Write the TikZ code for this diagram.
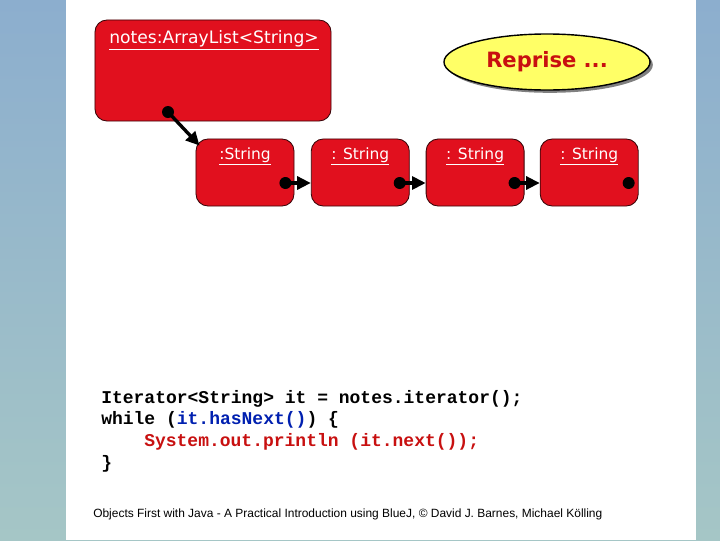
\documentclass[tikz,border=0pt]{standalone}
\usepackage{fontspec}
\setmonofont{Liberation Mono}
\newfontfamily\uifont{DejaVu Sans}
\newfontfamily\footfont{Liberation Sans}
\usetikzlibrary{positioning, arrows.meta, calc, shapes.geometric, shadows}
\usepackage{xcolor}
\definecolor{objred}{RGB}{225,16,30}
\definecolor{noteyellow}{RGB}{255,255,102}
\definecolor{codeblue}{RGB}{0,32,176}
\definecolor{codered}{RGB}{200,16,16}
\definecolor{bgtop}{RGB}{140,174,206}
\definecolor{bgbot}{RGB}{165,198,198}
\tikzset{
  obj/.style={draw=black!75!objred, fill=objred, rounded corners=0.3cm, line width=0.6pt},
  objlabel/.style={text=white, inner sep=0pt, font=\uifont\fontsize{11}{13}\selectfont},
  ref/.style={circle, fill=black, inner sep=0pt, minimum size=0.3cm},
  link/.style={line width=2.4pt, -{Triangle[length=0.34cm, width=0.32cm]}},
  codeline/.style={anchor=base west, inner sep=0pt, font=\ttfamily\bfseries\fontsize{12.8}{15}\selectfont},
}

\begin{document}
\begin{tikzpicture}[x=0.025cm, y=-0.025cm]
  \useasboundingbox (0,0) rectangle (720,540);
  \shade[top color=bgtop, bottom color=bgbot] (0,0) rectangle (720,540);
  \fill[white] (66,0) rectangle (696,540);

  % list object and its elements
  \node[obj, minimum width=5.9cm, minimum height=2.525cm] (notes) at (213,70.5) {};
  \node[objlabel, anchor=west, font=\uifont\fontsize{12.2}{14}\selectfont] (noteslbl) at (109,40) {\underline{notes:ArrayList<String>}};
  \node[obj, minimum width=2.45cm, minimum height=1.675cm] (s1) at (245,172.5) {};
  \node[obj, minimum width=2.45cm, minimum height=1.675cm, right=0.41cm of s1] (s2) {};
  \node[obj, minimum width=2.45cm, minimum height=1.675cm, right=0.4cm of s2] (s3) {};
  \node[obj, minimum width=2.45cm, minimum height=1.675cm, right=0.38cm of s3] (s4) {};
  \node[objlabel, below=0.22cm of s1.north] (s1lbl) {\underline{:String}};
  \node[objlabel, below=0.22cm of s2.north] (s2lbl) {\underline{: String}};
  \node[objlabel, below=0.22cm of s3.north] (s3lbl) {\underline{: String}};
  \node[objlabel, below=0.22cm of s4.north] (s4lbl) {\underline{: String}};

  \node[ref] (d0) at (168,112) {};
  \node[ref] (d1) at ($(s1.east)+(-9,10.5)$) {};
  \node[ref] (d2) at ($(s2.east)+(-10,10.5)$) {};
  \node[ref] (d3) at ($(s3.east)+(-10,10.5)$) {};
  \node[ref] (d4) at ($(s4.east)+(-10,10.5)$) {};
  \draw[link] (d0.center) -- ($(s1.north west)+(4,7)$);
  \draw[link] (d1.center) -- (d1 -| s2.west);
  \draw[link] (d2.center) -- (d2 -| s3.west);
  \draw[link] (d3.center) -- (d3 -| s4.west);

  \node[ellipse, draw=black, line width=1pt, fill=noteyellow, minimum width=5.15cm, minimum height=1.4cm,
    drop shadow={shadow xshift=2pt, shadow yshift=-2pt, fill=gray, opacity=1},
    text=codered, font=\uifont\bfseries\fontsize{15}{17}\selectfont] (reprise) at (547,62) {Reprise ...};

  % loop over the list
  \node[codeline] (c1) at (101,403) {Iterator<String> it = notes.iterator();};
  \node[codeline] (c2) at (101,424) {while (\textcolor{codeblue}{it.hasNext()}) \{};
  \node[codeline, text=codered] (c3) at (144,446) {System.out.println (it.next());};
  \node[codeline] (c4) at (101,468) {\}};

  \node[anchor=base west, inner sep=0pt, font=\footfont\fontsize{8.5}{10}\selectfont] (credit) at (93,517)
    {Objects First with Java - A Practical Introduction using BlueJ, \textcopyright{} David J. Barnes, Michael Kölling};
\end{tikzpicture}
\end{document}
